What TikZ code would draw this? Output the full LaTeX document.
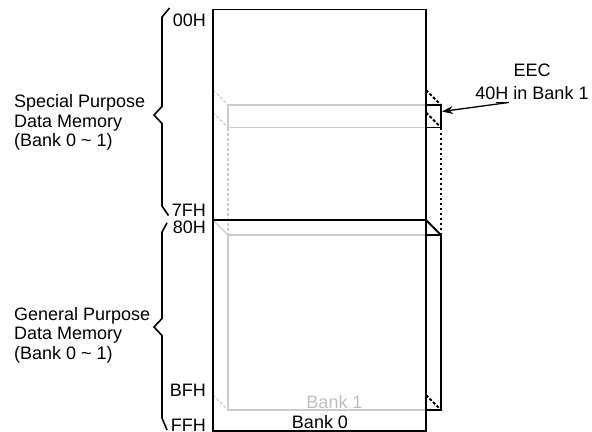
\documentclass[tikz,border=0pt]{standalone}
\usepackage{fontspec}
\setmainfont{Liberation Sans}
\usetikzlibrary{arrows.meta}
\begin{document}
\begin{tikzpicture}[x=1bp,y=-1bp,
  blk/.style={line width=1.8bp,draw=black},
  gry/.style={line width=1.4bp,draw=black!20},
  dsh/.style={dash pattern=on 3bp off 2bp},
  dtt/.style={dash pattern=on 2.5bp off 2.5bp},
  lbl/.style={font=\fontsize{18bp}{19.5bp}\selectfont,inner sep=0pt},
  addr/.style={lbl,anchor=base east},
  brace/.style={blk,line width=1.6bp,line join=miter}]
\useasboundingbox (0,0) rectangle (592,431);

% ---------- Bank 1 (back, gray) ----------
\draw[gry] (228,105) -- (426,105);
\draw[gry] (228,127.5) -- (426,127.5);
\draw[gry] (228,105) -- (228,127.5);
\draw[gry,dsh] (213,90) -- (228,105);
\draw[gry,dsh] (213,112.5) -- (228,127.5);
\draw[gry,dsh] (228,127.5) -- (228,235);
\draw[gry] (426,235) -- (228,235) -- (228,410) -- (426,410);
\draw[gry] (213,220) -- (228,235);
\draw[gry,dsh] (213,395) -- (228,410);

% ---------- Bank 0 (front, black) ----------
\draw[blk] (213,9.5) rectangle (426,431);
\draw[blk] (213,220) -- (426,220);

% EEC register in bank 1 (right side)
\draw[blk] (426,105) rectangle (441,127.5);
\draw[blk,dsh] (426,90) -- (441,105);
\draw[blk,dsh] (426,112.5) -- (441,127.5);
\draw[blk,dtt] (441,127.5) -- (441,235);

% right side of lower bank 1
\draw[blk] (426,220) -- (441,235) -- (441,410) -- (426,410);
\draw[blk] (426,235) -- (441,235);
\draw[blk,dsh] (426,395) -- (441,410);

% ---------- braces ----------
\draw[brace] (169.5,8) -- (162,17) -- (162,106.5) -- (154,115) -- (162,123.5) -- (162,206) -- (168.5,215.5);
\draw[brace] (167,223) -- (162,232) -- (162,318.5) -- (154,327) -- (162,335.5) -- (162,418) -- (167,430);

% ---------- labels ----------
\node[lbl,anchor=north west,align=left] (spdm) at (14,94.3)
  {Special Purpose\\Data Memory\\(Bank 0 \textasciitilde{} 1)};
\node[lbl,anchor=north west,align=left] (gpdm) at (14,307)
  {General Purpose\\Data Memory\\(Bank 0 \textasciitilde{} 1)};

\node[addr] (a00) at (206,26.7) {00H};
\node[addr] (a7f) at (206,216.7) {7FH};
\node[addr] (a80) at (206,233.3) {80H};
\node[addr] (abf) at (206,396.7) {BFH};
\node[addr] (aff) at (206,431.3) {FFH};

\node[lbl,anchor=base,text=black!25] (bank1) at (334.5,408.3) {Bank 1};
\node[lbl,anchor=base] (bank0) at (320,428.3) {Bank 0};

\node[lbl,anchor=north,align=center,font=\fontsize{18bp}{23bp}\selectfont] (eec) at (532,63.3)
  {EEC\\40H in Bank 1};

\coordinate (u1) at (495.5,102.5);
\coordinate (u2) at (508.5,102.5);
\coordinate (tip) at (442,111.5);
\draw[blk,line width=1.3bp] (u1) -- (u2);
\draw[blk,line width=1.3bp,-{Stealth[length=11bp,width=8bp]}] (u2) -- (tip);
\end{tikzpicture}
\end{document}
